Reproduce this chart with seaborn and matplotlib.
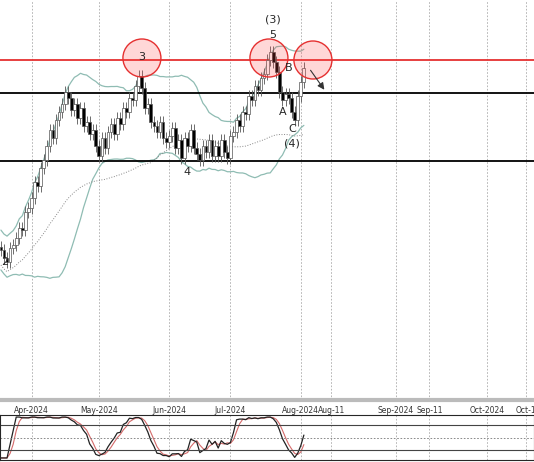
import numpy as np
import pandas as pd
import matplotlib.pyplot as plt
import seaborn as sns
from matplotlib.patches import Ellipse

sns.set_style('white')

# closes in chart units (screen y, smaller = higher price), Mar 18 .. Aug 2 2024
closes = [250, 258, 262, 248, 245,
          238, 228, 230, 212, 208,
          198, 182, 186, 168, 160,
          146, 130, 138, 120, 112,
          104, 92, 98, 110, 104,
          118, 108, 126, 122, 134,
          130, 146, 156, 138, 148,
          132, 124, 134, 118, 124,
          108, 112, 98, 100, 86,
          76, 88, 108, 104, 122,
          126, 132, 122, 138, 142,
          136, 128, 148, 140, 158,
          138, 146, 130, 148, 154,
          160, 146, 152, 140, 156,
          146, 156, 140, 152, 158,
          136, 132, 120, 126, 112,
          114, 96, 100, 86, 90,
          78, 74, 60, 52, 62,
          72, 92, 100, 94, 98,
          112, 120, 96, 82, 68]
tick_labels = ['Apr-2024', 'May-2024', 'Jun-2024', 'Jul-2024', 'Aug-2024',
               'Aug-11', 'Sep-2024', 'Sep-11', 'Oct-2024', 'Oct-1']
tick_pos = [10, 32, 55, 75, 98, 108, 129, 140, 159, 171.5]
levels_black = [93, 161]
level_red = 60
wave_labels = [('2', 4, 262), ('3', 141, 57), ('4', 186, 172), ('(3)', 272, 20),
               ('5', 272, 35), ('B', 288, 68), ('A', 282, 112), ('C', 291, 129), ('(4)', 291, 143)]
circles = [(141, 58), (268, 58), (312, 60)]

px = 3.06  # pixels per bar
df = pd.DataFrame({'i': np.arange(len(closes)), 'close': closes})
df['open'] = df['close'].shift(1).fillna(df['close'][0] - 3)
df['hi'] = df[['open', 'close']].min(axis=1) - 6
df['lo'] = df[['open', 'close']].max(axis=1) + 6
mid = df['close'].rolling(20, min_periods=1).mean()
sd = df['close'].rolling(20, min_periods=2).std().bfill()
df['up'] = mid - 1.4 * sd - 12
df['dn'] = mid + 1.4 * sd + 12
df['ma'] = df['close'].rolling(50, min_periods=1).mean() + 15

fig = plt.figure(figsize=(5.34, 4.62), dpi=100)
ax = fig.add_axes([0, 62 / 462, 1, 400 / 462])
ax2 = fig.add_axes([0, 2 / 462, 1, 45 / 462])

for _, r in df.iterrows():
    x = r['i']
    ax.vlines(x, r['hi'], r['lo'], color='#555555', lw=0.6, zorder=3)
    up = r['close'] < r['open']
    ax.bar(x, abs(r['close'] - r['open']) + 0.8, bottom=min(r['open'], r['close']) - 0.4,
           width=0.9, color='white' if up else 'black', edgecolor='#555555', lw=0.5, zorder=4)

sns.lineplot(x=df['i'], y=df['up'], ax=ax, color='#8fbcb3', lw=0.9)
sns.lineplot(x=df['i'], y=df['dn'], ax=ax, color='#8fbcb3', lw=0.9)
sns.lineplot(x=df['i'], y=df['ma'], ax=ax, color='#888888', lw=0.7, ls=':')

for y in levels_black:
    ax.axhline(y, color='black', lw=1.3, zorder=2)
ax.axhline(level_red, color='#e53030', lw=1.3, zorder=2)
for cx, cy in circles:
    ax.add_patch(Ellipse((cx / px, cy), 38 / px, 38, zorder=5,
                         facecolor=(1, 0.3, 0.3, 0.22), edgecolor='#e53030', lw=1))
for t, x, y in wave_labels:
    ax.text(x / px, y, t, ha='center', va='center', fontsize=8, zorder=6)
ax.annotate('', xy=(325 / px, 92), xytext=(308 / px, 68),
            arrowprops=dict(arrowstyle='-|>', color='#333333', lw=0.8), zorder=6)

ax.set_xlim(-0.3, 174.2)
ax.set_ylim(400, 0)
for a in (ax, ax2):
    for p in tick_pos:
        a.axvline(p, color='#aaaaaa', ls=(0, (2, 2)), lw=0.6, zorder=0)
    a.set_xlim(-0.3, 174.2)
    a.set_yticks([])
    a.set_xlabel('')
    a.set_ylabel('')
ax.set_xticks(tick_pos)
ax.set_xticklabels(tick_labels, fontsize=5.5, color='#333333')
ax.tick_params(axis='x', length=3, pad=1)
ax.spines['right'].set_visible(False)
ax.spines['left'].set_visible(False)
ax.spines['top'].set_visible(False)
ax.spines['bottom'].set_color('#bbbbbb')
ax.spines['bottom'].set_linewidth(3)

# stochastic oscillator from closes
price = 400 - df['close']
hh = price.rolling(14, min_periods=1).max()
ll = price.rolling(14, min_periods=1).min()
k = (100 * (price - ll) / (hh - ll).replace(0, 1)).rolling(3, min_periods=1).mean()
d = k.rolling(3, min_periods=1).mean()
sns.lineplot(x=df['i'], y=d, ax=ax2, color='#d46a6a', lw=0.8)
sns.lineplot(x=df['i'], y=k, ax=ax2, color='#222222', lw=0.9)
ax2.axhline(80, color='#444444', lw=0.8)
ax2.axhline(20, color='#444444', lw=0.8)
ax2.axhline(50, color='#777777', lw=0.6, ls=(0, (2, 2)))
ax2.set_ylim(-5, 105)
ax2.set_xticks([])
ax2.set_xlabel('')

fig.savefig('out.png', dpi=100)
